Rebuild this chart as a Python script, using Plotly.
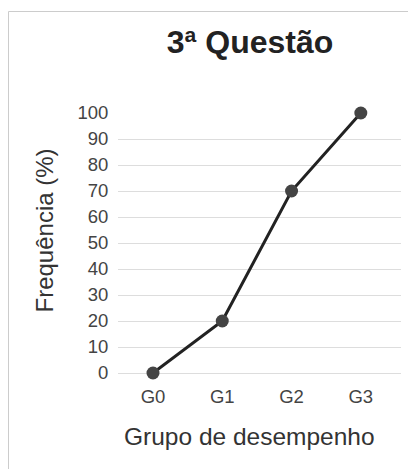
import plotly.graph_objects as go

categories = ["G0", "G1", "G2", "G3"]
frequencia = [0, 20, 70, 100]
y_ticks = [0, 10, 20, 30, 40, 50, 60, 70, 80, 90, 100]
title_text = "<b>3ª Questão</b>"
x_title = "Grupo de desempenho"
y_title = "Frequência (%)"

OFF = 8  # default page body margin
W, H = 416, 469
L, R, T, B = 118 - OFF, 401 - OFF, 113 - OFF, 373 - OFF  # plot area in figure pixels

fig = go.Figure()
fig.add_trace(go.Scatter(
    x=categories, y=frequencia, mode="lines+markers",
    line=dict(color="#222222", width=3),
    marker=dict(color="#444444", size=13),
    cliponaxis=False, showlegend=False,
))

def px_to_paper_x(px):
    return (px - OFF - L) / (R - L)

def px_to_paper_y(py):
    return (B - (py - OFF)) / (B - T)

fig.update_layout(
    width=W, height=H,
    margin=dict(l=L, r=W - R, t=T, b=H - B, pad=0),
    paper_bgcolor="white", plot_bgcolor="white",
    font=dict(family="Liberation Sans, Arial, sans-serif", color="#444444"),
    title=dict(text=title_text, x=(250 - OFF) / W, xanchor="center",
               y=1 - (42 - OFF) / H, yanchor="middle",
               font=dict(size=32, color="#222222")),
    xaxis=dict(
        type="category", range=[-0.505, 3.58],
        showgrid=False, zeroline=False, showline=False,
        ticks="outside", ticklen=7, tickcolor="rgba(0,0,0,0)",
        tickfont=dict(size=18.5, color="#444444"),
    ),
    yaxis=dict(
        range=[0, 100], tickvals=y_ticks,
        showgrid=True, gridcolor="#dddddd", gridwidth=1,
        zeroline=True, zerolinecolor="#dddddd", zerolinewidth=1,
        showline=False,
        ticks="outside", ticklen=5, tickcolor="rgba(0,0,0,0)",
        tickfont=dict(size=18.5, color="#444444"),
    ),
    annotations=[
        dict(text=x_title, xref="paper", yref="paper",
             x=px_to_paper_x(249.7), y=px_to_paper_y(436),
             xanchor="center", yanchor="middle", showarrow=False,
             font=dict(size=24.5, color="#333333")),
        dict(text=y_title, xref="paper", yref="paper", textangle=-90,
             x=px_to_paper_x(44), y=px_to_paper_y(230.5),
             xanchor="center", yanchor="middle", showarrow=False,
             font=dict(size=24, color="#333333")),
    ],
    shapes=[dict(
        type="rect", xref="paper", yref="paper", layer="below",
        x0=px_to_paper_x(8.5), x1=px_to_paper_x(W + 10),
        y0=px_to_paper_y(H + 10), y1=px_to_paper_y(11.5),
        line=dict(color="#cccccc", width=1), fillcolor="rgba(0,0,0,0)",
    )],
)

fig.write_html("out.html")
